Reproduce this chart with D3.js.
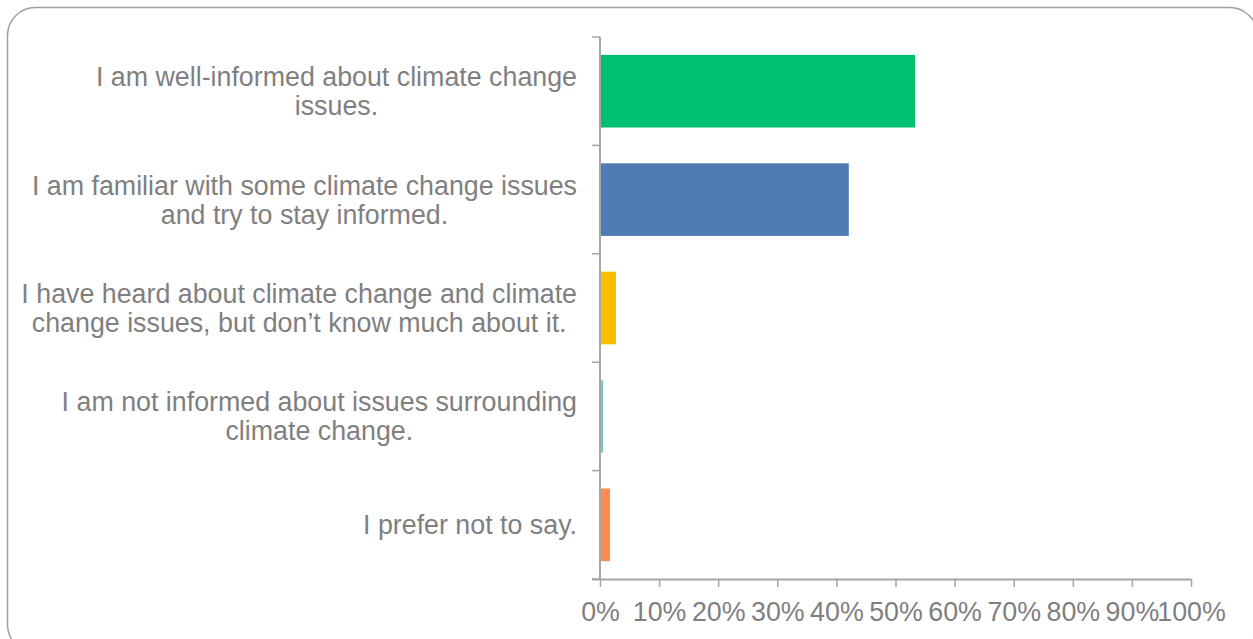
<!DOCTYPE html>
<html>
<head>
<meta charset="utf-8">
<script src="https://cdn.jsdelivr.net/npm/d3@7"></script>
<style>
  html, body { margin: 0; padding: 0; background: #fff; }
  svg { display: block; }
  text { font-family: "Liberation Sans", Arial, sans-serif; fill: #7f7f7f; }
</style>
</head>
<body>
<svg id="chart" width="1253" height="639"></svg>
<script>
const categories = [
  ["I am well-informed about climate change", "issues."],
  ["I am familiar with some climate change issues", "and try to stay informed."],
  ["I have heard about climate change and climate", "change issues, but don\u2019t know much about it."],
  ["I am not informed about issues surrounding", "climate change."],
  ["I prefer not to say."]
];
const values = [0.533, 0.421, 0.027, 0.005, 0.017];
const colors = ["#00bf6f", "#507cb6", "#f9be00", "#6bc8cd", "#ff8b4f"];
const xTicks = [0, 0.1, 0.2, 0.3, 0.4, 0.5, 0.6, 0.7, 0.8, 0.9, 1.0];
const xTickLabels = ["0%", "10%", "20%", "30%", "40%", "50%", "60%", "70%", "80%", "90%", "100%"];

(function () {
const svg = d3.select("#chart");
const pLeft = 600, pRight = 1191, pTop = 37, pBottom = 579;
const fs = 26.8;

// frame
svg.append("rect")
  .attr("x", 7.5).attr("y", 7.5)
  .attr("width", 1250).attr("height", 645)
  .attr("rx", 28).attr("ry", 28)
  .attr("fill", "none").attr("stroke", "#a0a0a0").attr("stroke-width", 1.5);

const x = d3.scaleLinear().domain([0, 1]).range([pLeft, pRight]);
const idx = categories.map((d, i) => i);
const y = d3.scaleBand().domain(idx).range([pTop, pBottom]).paddingInner(0.33).paddingOuter(0.165);

// bars
svg.append("g").selectAll("rect").data(values).join("rect")
  .attr("x", x(0))
  .attr("y", (d, i) => y(i))
  .attr("width", d => x(d) - x(0))
  .attr("height", y.bandwidth())
  .attr("fill", (d, i) => colors[i]);

// x axis
const xAxis = d3.axisBottom(x).tickValues(xTicks).tickFormat((d, i) => xTickLabels[i]).tickSize(8).tickPadding(15);
const gx = svg.append("g").attr("transform", `translate(0,${pBottom})`).call(xAxis);
gx.select(".domain").attr("stroke", "#a6a6a6").attr("stroke-width", 2)
  .attr("d", `M${pLeft - 8},0.5H${pRight}`);
gx.selectAll(".tick line").attr("stroke", "#a6a6a6").attr("stroke-width", 1.5);
gx.selectAll(".tick text").attr("font-size", fs).style("font-family", '"Liberation Sans", Arial, sans-serif').attr("fill", "#7f7f7f");

// y axis line and ticks at band boundaries
const step = y.step();
const boundaries = d3.range(categories.length + 1).map(i => pTop + i * step);
const gy = svg.append("g");
gy.append("line").attr("x1", pLeft).attr("x2", pLeft).attr("y1", pTop).attr("y2", pBottom)
  .attr("stroke", "#a6a6a6").attr("stroke-width", 2);
gy.selectAll("line.t").data(boundaries).join("line").attr("class", "t")
  .attr("x1", pLeft - 8).attr("x2", pLeft).attr("y1", d => d).attr("y2", d => d)
  .attr("stroke", "#a6a6a6").attr("stroke-width", 1.5);

// category labels: block right-aligned, lines centered within block
const lh = 29;
const labelRight = 577;
const lab = svg.append("g");
categories.forEach((lines, i) => {
  const cy = y(i) + y.bandwidth() / 2;
  const t = lab.append("text").attr("text-anchor", "middle").attr("font-size", fs);
  const spans = lines.map((ln, j) =>
    t.append("tspan")
      .attr("y", cy + (j - (lines.length - 1) / 2) * lh + 9.5)
      .text(ln));
  const maxW = d3.max(spans, s => s.node().getComputedTextLength());
  spans.forEach(s => s.attr("x", labelRight - maxW / 2));
});
})();
</script>
</body>
</html>
